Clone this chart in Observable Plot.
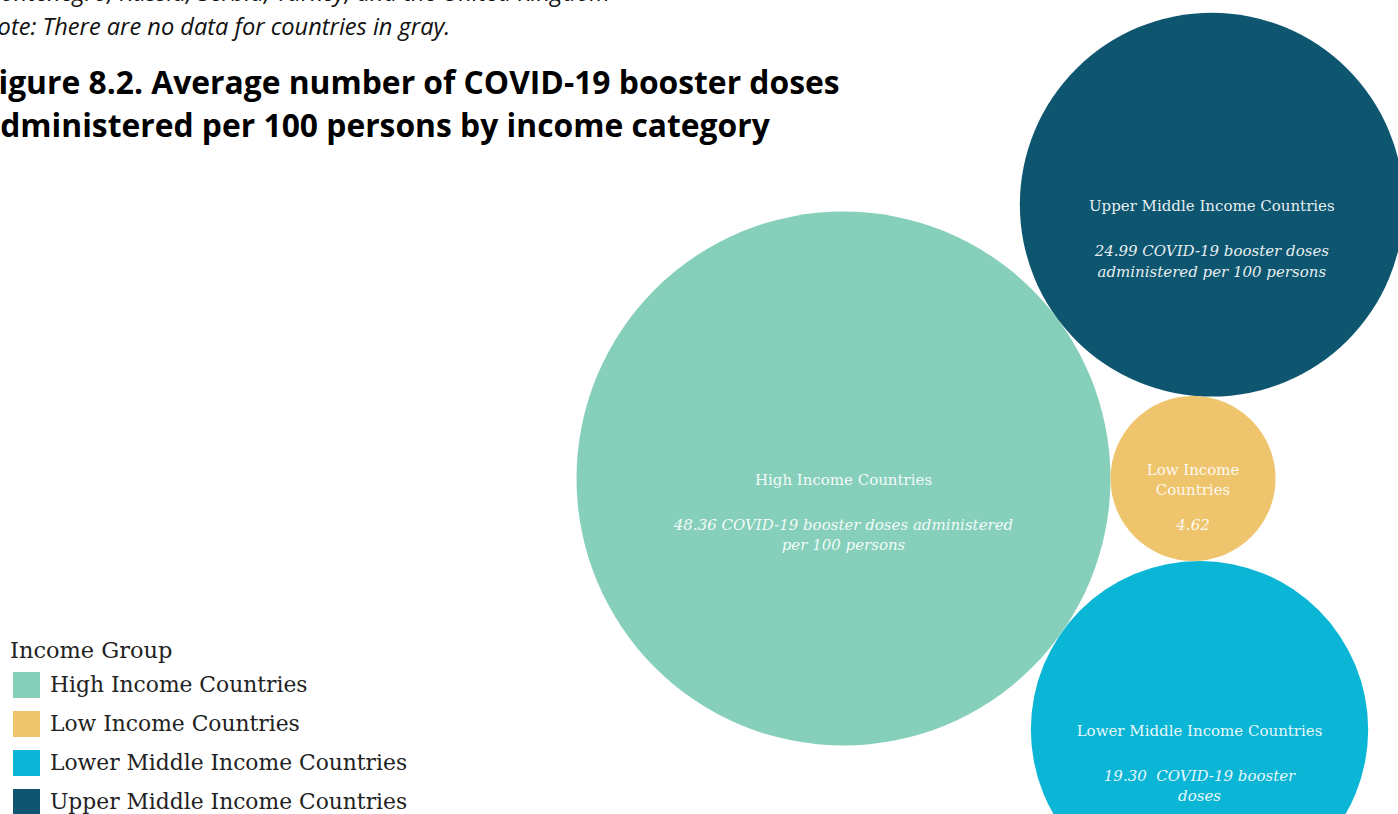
<!DOCTYPE html>
<html>
<head>
<meta charset="utf-8">
<script src="https://cdn.jsdelivr.net/npm/d3@7"></script>
<script src="https://cdn.jsdelivr.net/npm/@observablehq/plot@0.6"></script>
<style>
  html, body { margin: 0; padding: 0; background: #fff; }
  #wrap { position: relative; width: 1398px; height: 814px; overflow: hidden; }
  #chart { position: absolute; left: 0; top: 0; }
  .note { position: absolute; left: -19px; font-family: "Open Sans", sans-serif; font-style: italic; font-size: 23.6px; color: #111; white-space: nowrap; }
  #title { position: absolute; left: -19px; top: 60px; font-family: "Open Sans", sans-serif; font-weight: 700; font-size: 31.8px; line-height: 43px; color: #000; white-space: nowrap; }
  #legend { position: absolute; left: 10px; top: 635px; font-family: "DejaVu Serif", serif; color: #222; }
  #legend .head { font-size: 22.5px; line-height: 30px; }
  #legend .row { display: flex; align-items: center; height: 39px; margin-left: 3px; }
  #legend .sw { width: 27px; height: 26px; margin-right: 10px; }
  #legend .lab { font-size: 21.8px; }
</style>
</head>
<body>
<div id="wrap">
  <div id="chart"></div>
  <div class="note" id="note1" style="top:-24px">Montenegro, Russia, Serbia, Turkey, and the United Kingdom</div>
  <div class="note" id="note2" style="top:10px">Note: There are no data for countries in gray.</div>
  <div id="title">Figure 8.2. Average number of COVID-19 booster doses<br>administered per 100 persons by income category</div>
  <div id="legend"></div>
</div>
<script>
// ---- data ----
const categories = ["High Income Countries", "Low Income Countries", "Lower Middle Income Countries", "Upper Middle Income Countries"];
const values = [48.36, 4.62, 19.30, 24.99];
const colors = ["#86cfba", "#eec46d", "#0ab5d6", "#0e5670"];
const nameLabels = ["High Income Countries", "Low Income\nCountries", "Lower Middle Income Countries", "Upper Middle Income Countries"];
const valueLabels = [
  "48.36 COVID-19 booster doses administered\nper 100 persons",
  "4.62",
  "19.30  COVID-19 booster\ndoses",
  "24.99 COVID-19 booster doses\nadministered per 100 persons"
];
const legendTitle = "Income Group";

// ---- layout: tangent packing of circles sized by sqrt(value) ----
const W = 1398, H = 814;
const maxR = 267;
const rScale = d3.scaleSqrt().domain([0, d3.max(values)]).range([0, maxR]);
const data = categories.map((c, i) => ({category: c, value: values[i], name: nameLabels[i], label: valueLabels[i], r: rScale(values[i])}));
const [high, low, lower, upper] = data;
function tangent(A, B, C, side) {
  const dx = B.x - A.x, dy = B.y - A.y, d = Math.hypot(dx, dy);
  const ra = A.r + C.r, rb = B.r + C.r;
  const a = (ra * ra - rb * rb + d * d) / (2 * d);
  const h = Math.sqrt(Math.max(0, ra * ra - a * a));
  const px = A.x + a * dx / d, py = A.y + a * dy / d;
  C.x = px - side * h * dy / d;
  C.y = py + side * h * dx / d;
}
high.x = 0; high.y = 0;
low.x = high.r + low.r; low.y = 0;
tangent(high, low, upper, -1); // above
tangent(high, low, lower, 1);  // below

const cx = 843, cy = 478; // pixel position of the largest circle's centre
const plot = Plot.plot({
  width: W, height: H,
  margin: 0,
  x: {domain: [-cx, W - cx], range: [0, W], axis: null},
  y: {domain: [-cy, H - cy], range: [0, H], axis: null},
  r: {domain: [0, d3.max(values)], range: [0, maxR]},
  color: {domain: categories, range: colors},
  marks: [
    Plot.dot(data, {x: "x", y: "y", r: "value", fill: "category", stroke: "none", fillOpacity: 1}),
    Plot.text(data, {x: "x", y: "y", text: "name", fill: "white", fillOpacity: 0.92, fontFamily: "DejaVu Serif", fontSize: 15, lineHeight: 1.36}),
    Plot.text(data, {x: "x", y: "y", text: "label", dy: 37, lineAnchor: "top", fill: "white", fillOpacity: 0.92, fontFamily: "DejaVu Serif", fontStyle: "italic", fontSize: 15, lineHeight: 1.36})
  ]
});
document.getElementById("chart").appendChild(plot);

// legend
const lg = document.getElementById("legend");
const head = document.createElement("div");
head.className = "head"; head.textContent = legendTitle;
lg.appendChild(head);
categories.forEach((c, i) => {
  const row = document.createElement("div"); row.className = "row";
  const sw = document.createElement("div"); sw.className = "sw"; sw.style.background = colors[i];
  const lab = document.createElement("div"); lab.className = "lab"; lab.textContent = c;
  row.appendChild(sw); row.appendChild(lab); lg.appendChild(row);
});
</script>
</body>
</html>
